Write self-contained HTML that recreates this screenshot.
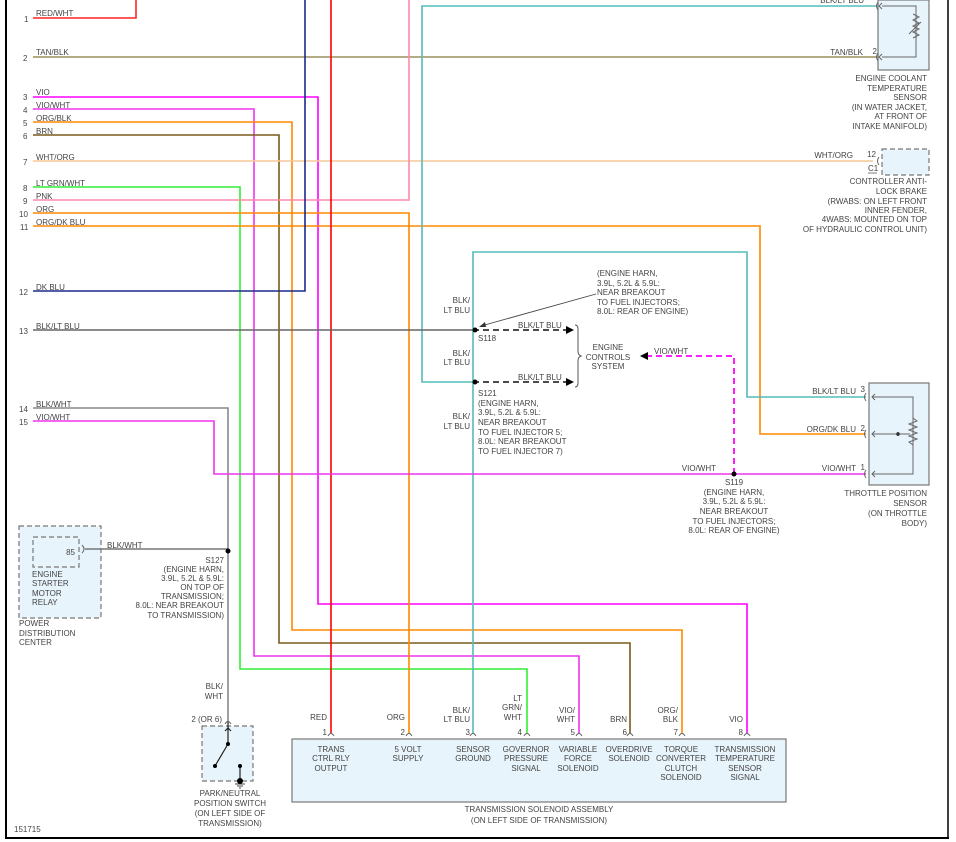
<!DOCTYPE html>
<html><head><meta charset="utf-8"><style>
html,body{margin:0;padding:0;background:#fff;}
svg{display:block;}
text{font-family:"Liberation Sans",sans-serif;font-size:8px;fill:#444;}
</style></head><body>
<svg width="956" height="842" viewBox="0 0 956 842" xmlns="http://www.w3.org/2000/svg">
<line x1="6" y1="0" x2="6" y2="839" stroke="#000" stroke-width="2"/>
<line x1="948" y1="0" x2="948" y2="839" stroke="#000" stroke-width="1.5"/>
<line x1="6" y1="838" x2="949" y2="838" stroke="#000" stroke-width="2"/>

<rect x="878" y="0" width="51" height="70" fill="#e8f4fb" stroke="#777" stroke-width="1.2"/>
<rect x="882" y="149" width="47" height="26" fill="#e8f4fb" stroke="#777" stroke-width="1.2" stroke-dasharray="5,3"/>
<rect x="869" y="383" width="60" height="102" fill="#e8f4fb" stroke="#777" stroke-width="1.2"/>
<rect x="19" y="526" width="82" height="92" fill="#e8f4fb" stroke="#777" stroke-width="1.2" stroke-dasharray="5,3"/>
<rect x="33" y="537" width="46" height="30" fill="#e8f4fb" stroke="#777" stroke-width="1.2" stroke-dasharray="5,3"/>
<rect x="202" y="726" width="51" height="55" fill="#e8f4fb" stroke="#777" stroke-width="1.2" stroke-dasharray="5,3"/>
<rect x="292" y="739" width="494" height="63" fill="#e8f4fb" stroke="#777" stroke-width="1.2"/>

<g fill="none" stroke-width="1.6">
<polyline points="33,18 136,18 136,0" stroke="#f22"/>
<polyline points="33,57 878,57" stroke="#9a8f5a"/>
<polyline points="33,97 318,97 318,604 747,604 747,733" stroke="#f0f"/>
<polyline points="33,109 254,109 254,656 579,656 579,733" stroke="#e3e"/>
<polyline points="33,122 292,122 292,630 682,630 682,733" stroke="#f80"/>
<polyline points="33,135 279,135 279,643 630,643 630,733" stroke="#7a5a1a"/>
<polyline points="33,161 873,161" stroke="#f7c896"/>
<polyline points="33,187 240,187 240,669 527,669 527,733" stroke="#3e3"/>
<polyline points="33,200 409,200 409,0" stroke="#f8a"/>
<polyline points="33,213 409,213 409,733" stroke="#f80"/>
<polyline points="33,226 760,226 760,434 866,434" stroke="#f80"/>
<polyline points="33,291 305,291 305,0" stroke="#1a2a8a"/>
<polyline points="331,0 331,733" stroke="#f00"/>
<polyline points="878,6 422,6 422,382 473,382" stroke="#5bb"/>
<polyline points="33,330 473,330" stroke="#666"/>
<polyline points="473,733 473,252 747,252 747,397 866,397" stroke="#5bb"/>
<polyline points="33,408 228,408 228,722" stroke="#888"/>
<polyline points="33,421 214,421 214,474 866,474" stroke="#e3e"/>
<polyline points="85,549 228,549" stroke="#777"/>
</g>

<g fill="none" stroke-width="1.8" stroke-dasharray="6,4">
<line x1="473" y1="330" x2="566" y2="330" stroke="#333"/>
<line x1="473" y1="382" x2="566" y2="382" stroke="#333"/>
<polyline points="734,474 734,356 648,356" stroke="#f0f"/>
</g>
<polygon points="566,326 574,330 566,334" fill="#000"/>
<polygon points="566,378 574,382 566,386" fill="#000"/>
<polygon points="648,352 640,356 648,360" fill="#000"/>
<path d="M575,325 q3,0 3,4 v22 q0,4 3,5 q-3,1 -3,5 v22 q0,4 -3,4" fill="none" stroke="#555" stroke-width="1"/>
<line x1="596" y1="294" x2="481" y2="326" stroke="#444" stroke-width="0.9"/>
<polygon points="479,327 485,322 486,327" fill="#333"/>

<g fill="#000">
<circle cx="475" cy="330" r="2.5"/><circle cx="475" cy="382" r="2.5"/>
<circle cx="734" cy="474" r="2.5"/><circle cx="228" cy="551" r="2.5"/>
<circle cx="898" cy="434" r="1.8"/>
</g>

<g fill="none" stroke="#666" stroke-width="1">
<polyline points="882,6 916,6 916,57 882,57"/>
<polyline points="913,14 919,17 913,20 919,23 913,26 919,29 913,32 919,35 913,38"/>
<line x1="909" y1="34" x2="921" y2="22"/>
<path d="M878,2 q-3,4 0,8 M878,53 q-3,4 0,8"/>
<path d="M882,3 l-3,3 l3,3 M882,54 l-3,3 l3,3"/>
<path d="M879,157 q-3,4 0,8"/>
<polyline points="872,397 913,397 913,474 872,474"/>
<line x1="872" y1="434" x2="910" y2="434"/>
<polyline points="913,418 917,421 909,424 917,427 909,430 917,433 909,436 917,439 909,442 913,445"/>
<path d="M866,393 q-3,4 0,8 M866,430 q-3,4 0,8 M866,470 q-3,4 0,8"/>
<path d="M875,394 l-3,3 l3,3 M875,431 l-3,3 l3,3 M875,471 l-3,3 l3,3"/>
<path d="M82,545 q4,4 0,8"/>
<path d="M328,736 q3,-5 6,0 M406,736 q3,-5 6,0 M470,736 q3,-5 6,0 M524,736 q3,-5 6,0 M576,736 q3,-5 6,0 M627,736 q3,-5 6,0 M679,736 q3,-5 6,0 M744,736 q3,-5 6,0 M225,724 q3,-5 6,0"/>
</g>
<g stroke="#222" stroke-width="1.2" fill="none">
<line x1="228" y1="722" x2="228" y2="744"/>
<path d="M225,731 l3,-3 l3,3"/>
<line x1="228" y1="744" x2="215" y2="766"/>
<line x1="240" y1="766" x2="240" y2="781"/>
<line x1="235" y1="784" x2="245" y2="784" stroke="#666"/>
<line x1="237" y1="786" x2="243" y2="786" stroke="#666"/>
<line x1="239" y1="788" x2="241" y2="788" stroke="#666"/>
</g>
<g fill="#000"><circle cx="228" cy="744" r="2"/><circle cx="215" cy="766" r="2"/><circle cx="240" cy="766" r="2"/><circle cx="240" cy="781" r="3"/></g>

<g>
<text x="36" y="16">RED/WHT</text><text x="24" y="22">1</text>
<text x="36" y="55">TAN/BLK</text><text x="23" y="61">2</text>
<text x="36" y="95">VIO</text><text x="23" y="100">3</text>
<text x="36" y="108">VIO/WHT</text><text x="23" y="113">4</text>
<text x="36" y="121">ORG/BLK</text><text x="23" y="126">5</text>
<text x="36" y="134">BRN</text><text x="23" y="139">6</text>
<text x="36" y="160">WHT/ORG</text><text x="23" y="165">7</text>
<text x="36" y="186">LT GRN/WHT</text><text x="23" y="191">8</text>
<text x="36" y="199">PNK</text><text x="23" y="204">9</text>
<text x="36" y="212">ORG</text><text x="19" y="217">10</text>
<text x="36" y="225">ORG/DK BLU</text><text x="20" y="230">11</text>
<text x="36" y="290">DK BLU</text><text x="19" y="295">12</text>
<text x="36" y="329">BLK/LT BLU</text><text x="19" y="334">13</text>
<text x="36" y="407">BLK/WHT</text><text x="19" y="412">14</text>
<text x="36" y="420">VIO/WHT</text><text x="19" y="425">15</text>
</g>

<g text-anchor="end">
<text x="863" y="55">TAN/BLK</text>
<text x="877" y="54">2</text>
<text x="927" y="81">ENGINE COOLANT</text><text x="927" y="91">TEMPERATURE</text><text x="927" y="100">SENSOR</text>
<text x="927" y="110">(IN WATER JACKET,</text><text x="927" y="119">AT FRONT OF</text><text x="927" y="129">INTAKE MANIFOLD)</text>
<text x="853" y="158">WHT/ORG</text><text x="876" y="157">12</text>
<text x="927" y="184">CONTROLLER ANTI-</text><text x="927" y="194">LOCK BRAKE</text><text x="927" y="204">(RWABS: ON LEFT FRONT</text>
<text x="927" y="213">INNER FENDER,</text><text x="927" y="222">4WABS: MOUNTED ON TOP</text><text x="927" y="232">OF HYDRAULIC CONTROL UNIT)</text>
<text x="856" y="394">BLK/LT BLU</text><text x="865" y="392">3</text>
<text x="856" y="432">ORG/DK BLU</text><text x="865" y="431">2</text>
<text x="856" y="471">VIO/WHT</text><text x="865" y="470">1</text>
<text x="716" y="471">VIO/WHT</text>
<text x="927" y="496">THROTTLE POSITION</text><text x="927" y="506">SENSOR</text><text x="927" y="516">(ON THROTTLE</text><text x="927" y="526">BODY)</text>
<text x="470" y="303">BLK/</text><text x="470" y="313">LT BLU</text>
<text x="470" y="356">BLK/</text><text x="470" y="365">LT BLU</text>
<text x="470" y="419">BLK/</text><text x="470" y="429">LT BLU</text>
<text x="224" y="563">S127</text><text x="224" y="572">(ENGINE HARN,</text><text x="224" y="581">3.9L, 5.2L &amp; 5.9L:</text>
<text x="224" y="590">ON TOP OF</text><text x="224" y="599">TRANSMISSION;</text><text x="224" y="608">8.0L: NEAR BREAKOUT</text><text x="224" y="618">TO TRANSMISSION)</text>
<text x="223" y="689">BLK/</text><text x="223" y="699">WHT</text>
<text x="222" y="722">2 (OR 6)</text>
<text x="75" y="555">85</text>
<text x="864" y="3">BLK/LT BLU</text>
</g>
<text x="868" y="171">C1</text>
<line x1="868" y1="173" x2="877" y2="173" stroke="#444" stroke-width="0.7"/>

<g>
<text x="597" y="276">(ENGINE HARN,</text><text x="597" y="286">3.9L, 5.2L &amp; 5.9L:</text><text x="597" y="295">NEAR BREAKOUT</text>
<text x="597" y="305">TO FUEL INJECTORS;</text><text x="597" y="314">8.0L: REAR OF ENGINE)</text>
<text x="518" y="328">BLK/LT BLU</text><text x="518" y="380">BLK/LT BLU</text>
<text x="478" y="341">S118</text>
<text x="478" y="396">S121</text><text x="478" y="406">(ENGINE HARN,</text><text x="478" y="415">3.9L, 5.2L &amp; 5.9L:</text>
<text x="478" y="425">NEAR BREAKOUT</text><text x="478" y="435">TO FUEL INJECTOR 5;</text><text x="478" y="444">8.0L: NEAR BREAKOUT</text><text x="478" y="454">TO FUEL INJECTOR 7)</text>
<text x="654" y="354">VIO/WHT</text>
<text x="107" y="548">BLK/WHT</text>
<text x="32" y="577">ENGINE</text><text x="32" y="586">STARTER</text><text x="32" y="596">MOTOR</text><text x="32" y="605">RELAY</text>
<text x="19" y="626">POWER</text><text x="19" y="636">DISTRIBUTION</text><text x="19" y="645">CENTER</text>
<text x="14" y="832">151715</text>
</g>
<g text-anchor="middle">
<text x="608" y="350">ENGINE</text><text x="608" y="360">CONTROLS</text><text x="608" y="369">SYSTEM</text>
<text x="734" y="485">S119</text><text x="734" y="495">(ENGINE HARN,</text><text x="734" y="504">3.9L, 5.2L &amp; 5.9L:</text>
<text x="734" y="514">NEAR BREAKOUT</text><text x="734" y="524">TO FUEL INJECTORS;</text><text x="734" y="533">8.0L: REAR OF ENGINE)</text>
<text x="230" y="796">PARK/NEUTRAL</text><text x="230" y="806">POSITION SWITCH</text><text x="230" y="816">(ON LEFT SIDE OF</text><text x="230" y="826">TRANSMISSION)</text>
<text x="539" y="812">TRANSMISSION SOLENOID ASSEMBLY</text><text x="539" y="823">(ON LEFT SIDE OF TRANSMISSION)</text>
<text x="331" y="752">TRANS</text><text x="331" y="761">CTRL RLY</text><text x="331" y="771">OUTPUT</text>
<text x="408" y="752">5 VOLT</text><text x="408" y="761">SUPPLY</text>
<text x="473" y="752">SENSOR</text><text x="473" y="761">GROUND</text>
<text x="526" y="752">GOVERNOR</text><text x="526" y="761">PRESSURE</text><text x="526" y="771">SIGNAL</text>
<text x="578" y="752">VARIABLE</text><text x="578" y="761">FORCE</text><text x="578" y="771">SOLENOID</text>
<text x="629" y="752">OVERDRIVE</text><text x="629" y="761">SOLENOID</text>
<text x="681" y="752">TORQUE</text><text x="681" y="761">CONVERTER</text><text x="681" y="771">CLUTCH</text><text x="681" y="780">SOLENOID</text>
<text x="745" y="752">TRANSMISSION</text><text x="745" y="761">TEMPERATURE</text><text x="745" y="771">SENSOR</text><text x="745" y="780">SIGNAL</text>
</g>
<g text-anchor="end">
<text x="327" y="720">RED</text><text x="327" y="735">1</text>
<text x="405" y="720">ORG</text><text x="405" y="735">2</text>
<text x="470" y="713">BLK/</text><text x="470" y="722">LT BLU</text><text x="470" y="735">3</text>
<text x="522" y="701">LT</text><text x="522" y="710">GRN/</text><text x="522" y="720">WHT</text><text x="522" y="735">4</text>
<text x="575" y="713">VIO/</text><text x="575" y="722">WHT</text><text x="575" y="735">5</text>
<text x="627" y="722">BRN</text><text x="627" y="735">6</text>
<text x="678" y="713">ORG/</text><text x="678" y="722">BLK</text><text x="678" y="735">7</text>
<text x="743" y="722">VIO</text><text x="743" y="735">8</text>
</g>
</svg>
</body></html>
